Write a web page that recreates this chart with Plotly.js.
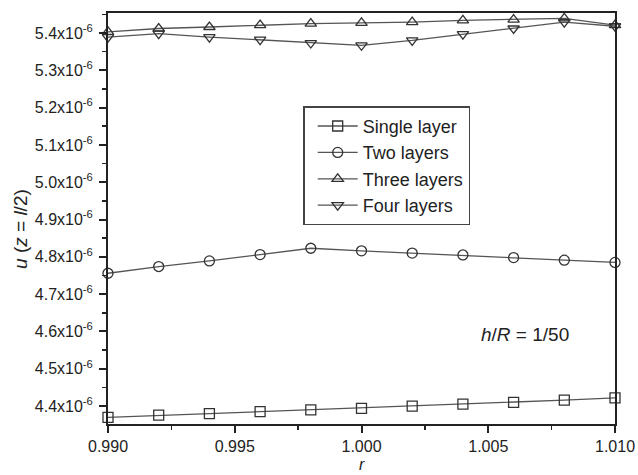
<!DOCTYPE html>
<html>
<head>
<meta charset="utf-8">
<script src="https://cdn.plot.ly/plotly-3.0.1.min.js"></script>
<style>html,body{margin:0;padding:0;background:#fff;}#chart{width:638px;height:475px;}</style>
</head>
<body>
<div id="chart"></div>
<script>
const rValues = [0.990, 0.992, 0.994, 0.996, 0.998, 1.000, 1.002, 1.004, 1.006, 1.008, 1.010];
const singleLayer = [4.370, 4.376, 4.380, 4.385, 4.390, 4.394, 4.400, 4.405, 4.410, 4.416, 4.422];
const twoLayers   = [4.756, 4.774, 4.789, 4.806, 4.823, 4.816, 4.810, 4.805, 4.798, 4.791, 4.785];
const threeLayers = [5.403, 5.412, 5.416, 5.421, 5.425, 5.427, 5.429, 5.434, 5.436, 5.439, 5.421];
const fourLayers  = [5.389, 5.398, 5.389, 5.382, 5.373, 5.367, 5.380, 5.397, 5.412, 5.429, 5.418];
const seriesNames = ["Single layer", "Two layers", "Three layers", "Four layers"];
const yTickVals = [4.4, 4.5, 4.6, 4.7, 4.8, 4.9, 5.0, 5.1, 5.2, 5.3, 5.4];
const yTickText = ["4.4x10<sup>-6</sup>","4.5x10<sup>-6</sup>","4.6x10<sup>-6</sup>","4.7x10<sup>-6</sup>","4.8x10<sup>-6</sup>","4.9x10<sup>-6</sup>","5.0x10<sup>-6</sup>","5.1x10<sup>-6</sup>","5.2x10<sup>-6</sup>","5.3x10<sup>-6</sup>","5.4x10<sup>-6</sup>"];
const xTickVals = [0.990, 0.995, 1.000, 1.005, 1.010];
const xTickText = ["0.990", "0.995", "1.000", "1.005", "1.010"];

const scale = 1e-6;
const symbols = ["square-open", "circle-open", "triangle-up-open", "triangle-down-open"];
const allSeries = [singleLayer, twoLayers, threeLayers, fourLayers];

const traces = allSeries.map((s, i) => ({
  x: rValues,
  y: s.map(v => v * scale),
  name: seriesNames[i],
  type: "scatter",
  mode: "lines+markers",
  line: {color: "#555", width: 1.3},
  marker: {symbol: symbols[i], size: 10, color: "#333", line: {width: 1.3, color: "#333"}},
  cliponaxis: false
}));

const layout = {
  width: 638, height: 475,
  margin: {l: 108, r: 23, t: 13, b: 51},
  paper_bgcolor: "#fff", plot_bgcolor: "#fff",
  font: {family: "Liberation Sans, Arial, sans-serif", color: "#222"},
  showlegend: true,
  legend: {
    x: 0.385, y: 0.773, xanchor: "left", yanchor: "top",
    bordercolor: "#444", borderwidth: 1.5, bgcolor: "#fff",
    font: {size: 18, color: "#222"}, tracegroupgap: 0,
    itemwidth: 40, indentation: 8
  },
  xaxis: {
    range: [0.990, 1.010],
    tickvals: xTickVals, ticktext: xTickText,
    ticks: "outside", ticklen: 7, tickwidth: 2, tickcolor: "#222",
    minor: {dtick: 0.0025, ticks: "outside", ticklen: 4, tickwidth: 1.5, tickcolor: "#222"},
    showline: true, linewidth: 2, linecolor: "#222", mirror: true,
    showgrid: false, zeroline: false,
    tickfont: {size: 16, color: "#222"}
  },
  yaxis: {
    range: [4.352e-6, 5.4535e-6],
    tickvals: yTickVals.map(v => v * scale), ticktext: yTickText,
    ticks: "outside", ticklen: 7, tickwidth: 2, tickcolor: "#222",
    ticklabelstandoff: 3,
    minor: {dtick: 0.05e-6, ticks: "outside", ticklen: 4, tickwidth: 1.5, tickcolor: "#222"},
    showline: true, linewidth: 2, linecolor: "#222", mirror: true,
    showgrid: false, zeroline: false,
    tickfont: {size: 16, color: "#222"}
  },
  annotations: [
    {
      x: 1.00645, y: 4.592e-6, xref: "x", yref: "y",
      text: "<i>h</i>/<i>R</i> = 1/50", showarrow: false,
      font: {size: 19, color: "#222"}
    },
    {
      x: -0.174, y: 0.474, xref: "paper", yref: "paper",
      xanchor: "center", yanchor: "middle", textangle: -90,
      text: "<i>u</i> (<i>z</i> = <i>l</i>/2)", showarrow: false,
      font: {size: 19, color: "#222"}
    },
    {
      x: 1.000, y: -0.1245, xref: "x", yref: "paper",
      xanchor: "center", yanchor: "bottom",
      text: "<i>r</i>", showarrow: false,
      font: {size: 16, color: "#222"}
    }
  ]
};

Plotly.newPlot("chart", traces, layout, {displayModeBar: false, staticPlot: true});
</script>
</body>
</html>
